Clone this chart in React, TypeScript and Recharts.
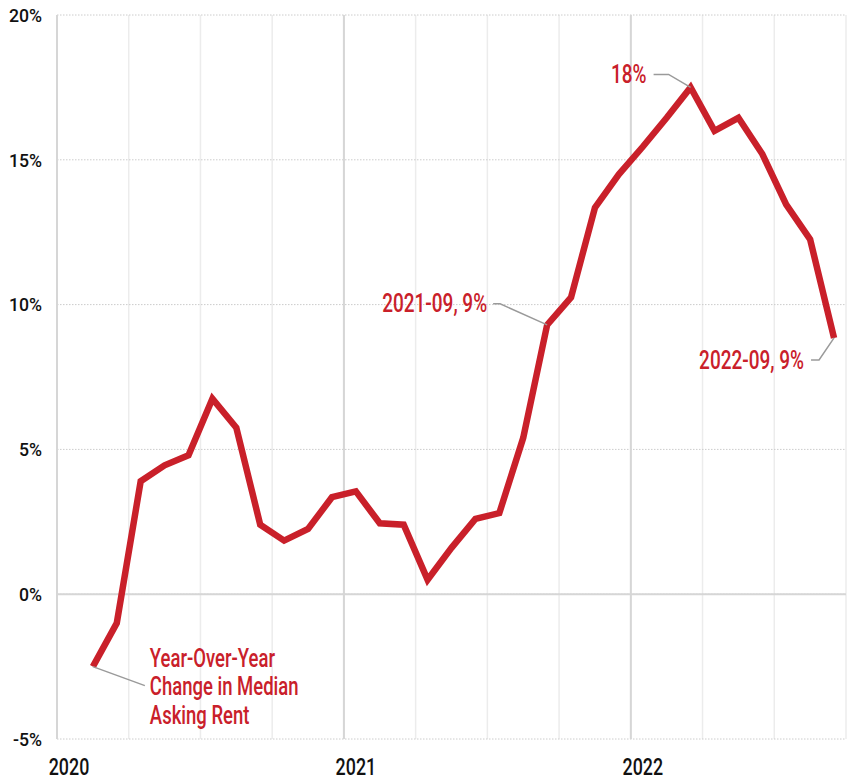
import { LineChart, Line, XAxis, YAxis, CartesianGrid, ReferenceLine } from 'recharts';

const months = [
  '2020-02', '2020-03', '2020-04', '2020-05', '2020-06', '2020-07', '2020-08', '2020-09', '2020-10', '2020-11', '2020-12',
  '2021-01', '2021-02', '2021-03', '2021-04', '2021-05', '2021-06', '2021-07', '2021-08', '2021-09', '2021-10', '2021-11', '2021-12',
  '2022-01', '2022-02', '2022-03', '2022-04', '2022-05', '2022-06', '2022-07', '2022-08', '2022-09',
];

const rentChange = [
  -2.5, -1.0, 3.9, 4.45, 4.8, 6.75, 5.75, 2.4, 1.85, 2.25, 3.35,
  3.55, 2.45, 2.4, 0.5, 1.6, 2.6, 2.8, 5.4, 9.3, 10.25, 13.35, 14.5,
  15.45, 16.45, 17.5, 16.0, 16.45, 15.2, 13.45, 12.25, 8.85,
];

const yTicks = [-5, 0, 5, 10, 15, 20];
const gridMonths = [0, 3, 6, 9, 12, 15, 18, 21, 24, 27, 30, 33];
const yearLabels = ['2020', '2021', '2022'];

const annotations: Record<string, string[]> = {
  '2020-02': ['Year-Over-Year', 'Change in Median', 'Asking Rent'],
  '2021-09': ['2021-09, 9%'],
  '2022-03': ['18%'],
  '2022-09': ['2022-09, 9%'],
};

const monthPos = (m: string) => {
  const [y, mo] = m.split('-').map(Number);
  return (y - 2020) * 12 + (mo - 1) + 0.5;
};

const data = months.map((m, i) => ({ month: m, x: monthPos(m), value: rentChange[i] }));

const RED = '#c9202a';
const FONT = 'Roboto, "Liberation Sans", sans-serif';

// condensed look: the installed fonts are all normal width, so squeeze horizontally
function Narrow({ x, y, s, anchor = 'start', size, weight = 400, fill, children }: any) {
  return (
    <text
      transform={`translate(${x} ${y}) scale(${s} 1)`}
      textAnchor={anchor}
      fontSize={size}
      fontWeight={weight}
      fontFamily={FONT}
      fill={fill}
    >
      {children}
    </text>
  );
}

function YearTick({ x, y, payload }: any) {
  const idx = payload.value / 12;
  if (!Number.isInteger(idx) || !yearLabels[idx]) return null;
  return (
    <Narrow x={x + 12} y={y + 28} s={0.76} anchor="middle" size={23.5} weight={500} fill="#111">
      {yearLabels[idx]}
    </Narrow>
  );
}

function PctTick({ x, y, payload }: any) {
  return (
    <Narrow x={x} y={y + 6.7} s={0.93} anchor="end" size={19} weight={500} fill="#111">
      {`${payload.value}%`}
    </Narrow>
  );
}

function Annotation({ x, y, index }: any) {
  const key = months[index];
  const lines = annotations[key];
  if (!lines) return null;
  const leader = '#9a9a9a';
  if (key === '2020-02') {
    return (
      <g>
        <polyline points={`${x},${y} ${x + 52},${y + 19}`} fill="none" stroke={leader} strokeWidth={1.5} />
        {lines.map((t, i) => (
          <Narrow key={t} x={x + 57} y={y + i * 28.6} s={0.74} size={25} weight={500} fill={RED}>
            {t}
          </Narrow>
        ))}
      </g>
    );
  }
  let pts = '';
  let tx = 0;
  let ty = 0;
  if (key === '2021-09') {
    pts = `${x},${y} ${x - 47},${y - 21} ${x - 54},${y - 21}`;
    tx = x - 60;
    ty = y - 12.5;
  } else if (key === '2022-03') {
    pts = `${x},${y} ${x - 22},${y - 13} ${x - 37},${y - 13}`;
    tx = x - 44;
    ty = y - 4.5;
  } else {
    pts = `${x},${y} ${x - 15},${y + 22} ${x - 23},${y + 22}`;
    tx = x - 30;
    ty = y + 31.5;
  }
  return (
    <g>
      <polyline points={pts} fill="none" stroke={leader} strokeWidth={1.5} />
      <Narrow x={tx} y={ty} s={0.76} anchor="end" size={25} weight={500} fill={RED}>
        {lines[0]}
      </Narrow>
    </g>
  );
}

export default function App() {
  return (
    <div style={{ position: 'absolute', left: 0, top: 0, background: '#fff' }}>
      <LineChart width={850} height={782} data={data} margin={{ top: 15, right: 4, left: 0, bottom: 0 }}>
        <CartesianGrid horizontal={false} stroke="#ececec" strokeWidth={1.5} />
        <CartesianGrid vertical={false} stroke="#cccccc" strokeDasharray="1.5 1.5" />
        <ReferenceLine x={0} stroke="#d6d6d6" strokeWidth={2} />
        <ReferenceLine x={12} stroke="#d6d6d6" strokeWidth={2} />
        <ReferenceLine x={24} stroke="#d6d6d6" strokeWidth={2} />
        <ReferenceLine y={0} stroke="#d6d6d6" strokeWidth={2} />
        <XAxis
          dataKey="x"
          type="number"
          domain={[0, 33]}
          ticks={gridMonths}
          interval={0}
          height={43}
          axisLine={false}
          tickLine={false}
          tick={<YearTick />}
        />
        <YAxis
          type="number"
          domain={[-5, 20]}
          ticks={yTicks}
          width={57}
          axisLine={false}
          tickLine={false}
          tickSize={0}
          tickMargin={15}
          tick={<PctTick />}
        />
        <Line
          type="linear"
          dataKey="value"
          stroke={RED}
          strokeWidth={6.5}
          strokeLinejoin="miter"
          dot={false}
          isAnimationActive={false}
          label={<Annotation />}
        />
      </LineChart>
    </div>
  );
}
